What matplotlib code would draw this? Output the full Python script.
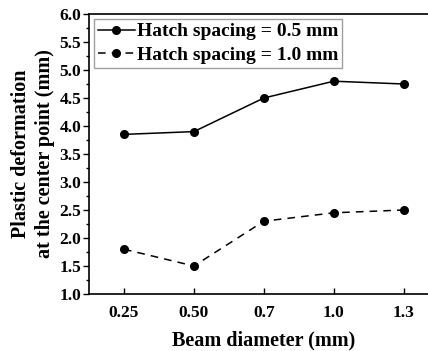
import matplotlib
matplotlib.use("Agg")
import matplotlib.pyplot as plt
from matplotlib.ticker import MultipleLocator

categories = ["0.25", "0.50", "0.7", "1.0", "1.3"]
hatch_05 = [3.85, 3.90, 4.50, 4.80, 4.75]
hatch_10 = [1.80, 1.50, 2.30, 2.45, 2.50]
y_ticks = [1.0, 1.5, 2.0, 2.5, 3.0, 3.5, 4.0, 4.5, 5.0, 5.5, 6.0]

plt.rcParams['font.family'] = ['Liberation Serif', 'DejaVu Serif']
plt.rcParams['font.weight'] = 'bold'

fig = plt.figure(figsize=(4.28, 3.51), dpi=100)
ax = fig.add_axes([89/428, 1-294/351, (438.7-89)/428, (294-14)/351])

x = list(range(len(categories)))
ax.plot(x, hatch_05, '-', color='black', marker='o', markersize=5.5, linewidth=1.1,
        label='Hatch spacing = 0.5 mm')
ax.plot(x, hatch_10, '--', color='black', marker='o', markersize=5.5, linewidth=1.1,
        dashes=(5, 4), label='Hatch spacing = 1.0 mm')

ax.set_xlim(-0.5, 4.5)
ax.set_ylim(1.0, 6.0)
ax.set_xticks(x)
ax.set_xticklabels(categories)
ax.set_yticks(y_ticks)
ax.set_yticklabels([f"{v:.1f}" for v in y_ticks])
ax.yaxis.set_minor_locator(MultipleLocator(0.25))

ax.tick_params(axis='y', which='major', direction='out', length=4.5, width=1, labelsize=12.5, pad=1)
ax.tick_params(axis='y', which='minor', direction='out', length=2.2, width=1)
ax.tick_params(axis='x', which='major', direction='in', length=4, width=1, labelsize=12.5, pad=8)
for lab in ax.get_xticklabels() + ax.get_yticklabels():
    lab.set_fontweight('bold')

for s in ax.spines.values():
    s.set_linewidth(1.2)
ax.spines['right'].set_visible(False)

ax.set_xlabel('Beam diameter (mm)', fontsize=14.5, fontweight='bold', labelpad=7)
ax.set_ylabel('Plastic deformation\nat the center point (mm)', fontsize=14.5,
              fontweight='bold', labelpad=3, linespacing=1.3)

leg = ax.legend(loc='upper left', bbox_to_anchor=(94/428, 1-19/351), bbox_transform=fig.transFigure,
                frameon=True, fancybox=False, edgecolor='#888888', handlelength=1.9,
                handletextpad=0.1, borderpad=0.2, labelspacing=0.3, borderaxespad=0,
                prop={'size': 14, 'weight': 'bold'})
leg.get_frame().set_linewidth(1.0)

fig.savefig('out.png', dpi=100)
